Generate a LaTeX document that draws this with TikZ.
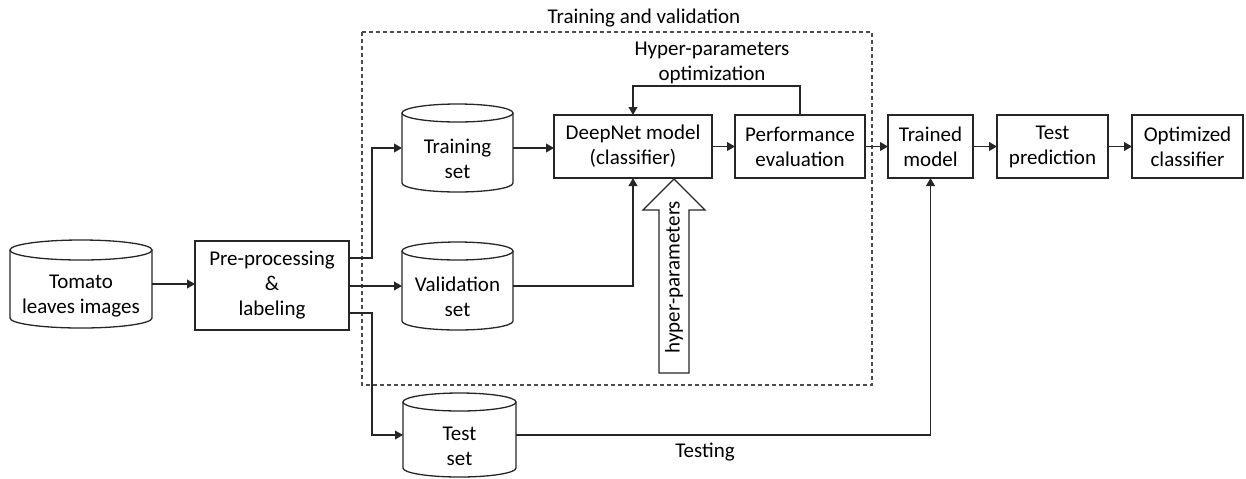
\documentclass[tikz,border=0pt]{standalone}
\usepackage{fontspec}
\setmainfont{Carlito}
\usetikzlibrary{arrows.meta,calc}
\tikzset{
  ln/.style={draw=black!85, line width=0.65pt},
  arr/.style={ln, -{Triangle[length=4pt,width=4.4pt]}},
  txt/.style={font=\fontsize{10.5}{12.5}\selectfont, align=center, inner sep=0pt},
  box/.style={ln, rectangle, outer sep=0pt, inner sep=0pt, txt},
  cylbase/.style={rectangle, outer sep=0pt, inner sep=0pt},
}
\newcommand\dbcyl[7]{%
  \node[cylbase, minimum width=#4*0.5pt, minimum height=#5*0.5pt] (#1) at (#2,#3) {};
  \draw[ln] ([yshift=-#6*0.5pt]#1.north west) -- ([yshift=#6*0.5pt]#1.south west)
     arc[start angle=180, end angle=360, x radius=#4*0.25pt, y radius=#6*0.5pt]
     -- ([yshift=-#6*0.5pt]#1.north east);
  \draw[ln] ([yshift=-#6*0.5pt]#1.north) ellipse [x radius=#4*0.25pt, y radius=#6*0.5pt];
  \node[txt] (#1t) at ([yshift=-#6*0.5pt-1pt]#1.center) {#7};
}
\begin{document}
\begin{tikzpicture}[x=0.5pt, y=-0.5pt]
\useasboundingbox (0,0) rectangle (1246,478);

% dashed frame
\draw[draw=black!70, line width=0.6pt, dash pattern=on 2pt off 1.5pt] (362,32) rectangle (872,385);
\node[txt, anchor=base] (tv) at (644,23) {Training and validation};
\node[txt] (hpo) at (712,63) {Hyper-parameters\\optimization};

% cylinders
\dbcyl{tomato}{81}{284}{142}{88}{10}{Tomato\\leaves images}
\dbcyl{train}{457.5}{148}{111}{88}{9}{Training\\set}
\dbcyl{valid}{457.5}{286}{111}{88}{9}{Validation\\set}
\dbcyl{test}{459.5}{435}{113}{84}{9}{Test\\set}

% boxes
\node[box, minimum width=77pt, minimum height=44.5pt] (pre) at (272,285.5) {Pre-processing\\\&\\labeling};
\node[box, minimum width=79pt, minimum height=31.5pt] (dnn) at (633,146.5) {DeepNet model\\(classifier)};
\node[box, minimum width=65pt, minimum height=31.5pt] (perf) at (800,146.5) {Performance\\evaluation};
\node[box, minimum width=42.5pt, minimum height=31.5pt] (trained) at (930.5,146.5) {Trained\\model};
\node[box, minimum width=55.5pt, minimum height=31.5pt] (tpred) at (1052.5,146.5) {Test\\prediction};
\node[box, minimum width=55.5pt, minimum height=31.5pt] (optim) at (1187.5,146.5) {Optimized\\classifier};

% hyper-parameters block arrow
\draw[ln] (659,373) -- (659,210) -- (643,210) -- (674,179) -- (705,210) -- (689,210) -- (689,373) -- cycle;
\node[txt, rotate=90] (hp) at (674,277) {hyper-parameters};

% connectors
\draw[arr] (tomato.east) -- (tomato.east -| pre.west);
\draw[arr] (pre.east |- 0,258) -- (372,258) |- (train.west);
\draw[arr] (pre.east |- valid.west) -- (valid.west);
\draw[arr] (pre.east |- 0,313) -- (372,313) |- (test.west);
\draw[arr] (train.east) -- (train.east -| dnn.west);
\draw[arr] (dnn.east) -- (perf.west);
\draw[arr] (perf.north) -- ++(0,-29) -| (dnn.north);
\draw[arr] (valid.east) -| (dnn.south);
\draw[arr] (perf.east) -- (trained.west);
\draw[arr] (trained.east) -- (tpred.west);
\draw[arr] (tpred.east) -- (optim.west);
\draw[arr] (test.east) -| (trained.south);
\node[txt] (testing) at (705,452) {Testing};
\end{tikzpicture}
\end{document}
